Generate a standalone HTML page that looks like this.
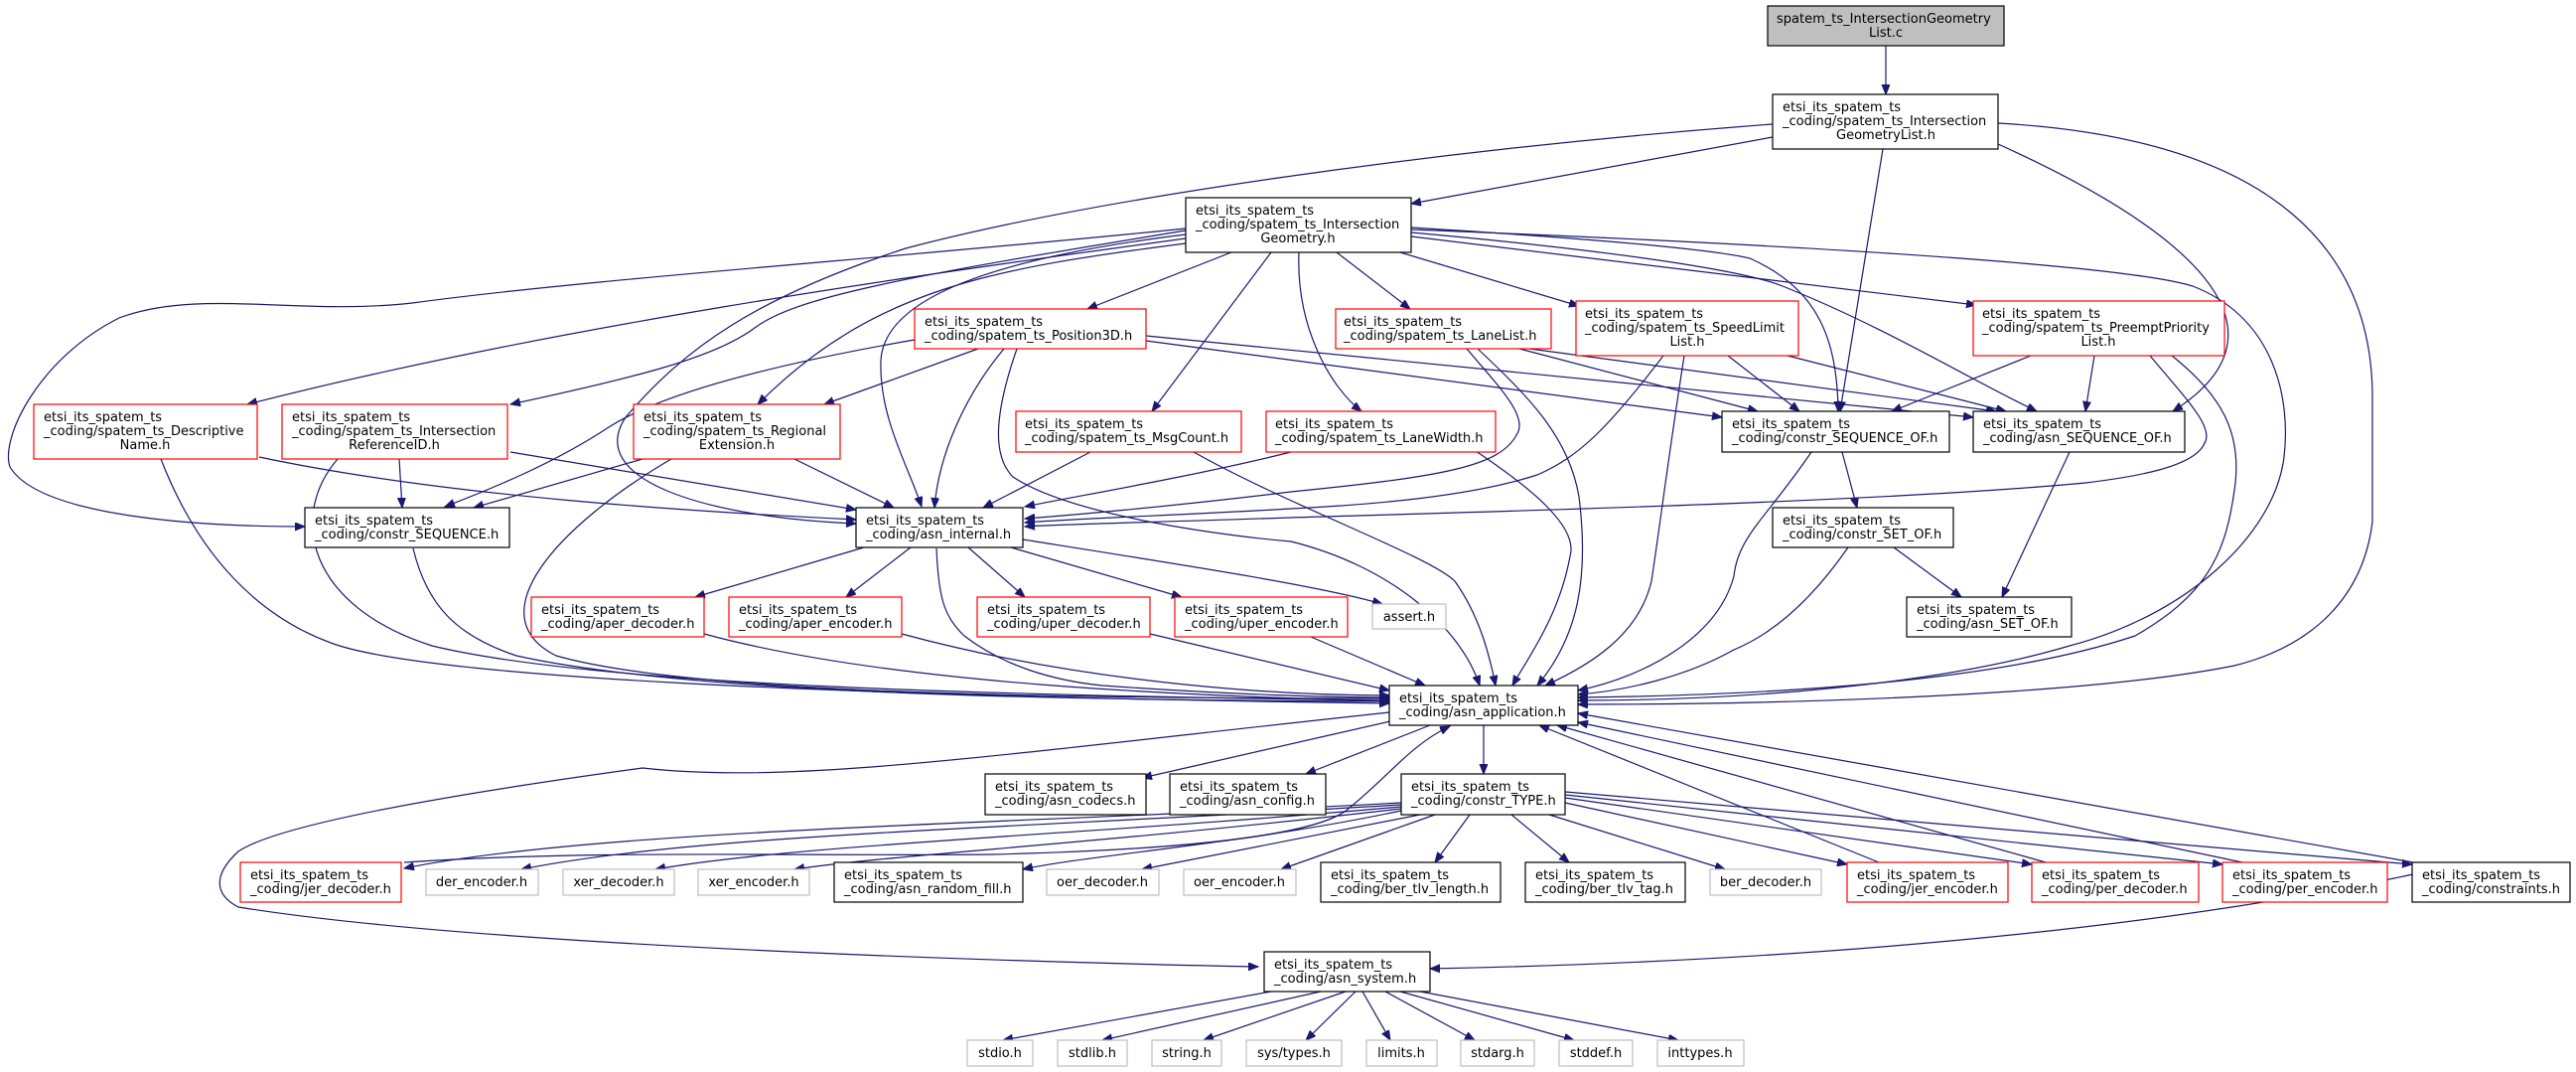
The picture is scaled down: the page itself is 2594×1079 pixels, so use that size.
<!DOCTYPE html>
<html><head><meta charset="utf-8"><style>
html,body{margin:0;padding:0;background:#fff;}
svg{display:block;}
text{font-family:"DejaVu Sans","Liberation Sans",sans-serif;font-size:13px;fill:#000;}
.e{fill:none;stroke:#191970;stroke-width:1.2;marker-end:url(#a);}
.b{fill:#fff;stroke:#000;stroke-width:1.2;}
.r{fill:#fff;stroke:#ff0000;stroke-width:1.2;}
.g{fill:#fff;stroke:#bfbfbf;stroke-width:1.2;}
.m{text-anchor:middle;}
</style></head><body>
<svg width="2594" height="1079" viewBox="0 0 2594 1079" xmlns="http://www.w3.org/2000/svg">
<defs><marker id="a" markerUnits="userSpaceOnUse" markerWidth="11" markerHeight="9" refX="10" refY="4" orient="auto"><path d="M0,0 L10,4 L0,8 z" fill="#191970" stroke="#191970"/></marker></defs>
<g>
<path class="e" d="M1899,46 L1899,95"/>
<path class="e" d="M1785,138 L1421,205"/>
<path class="e" d="M1785,125 C1450,150 1100,200 912,250 C760,300 690,350 630,420 C590,480 700,520 862,527"/>
<path class="e" d="M1896,150 L1853,414"/>
<path class="e" d="M2012,145 C2200,230 2320,330 2188,414"/>
<path class="e" d="M2012,124 C2300,140 2389,260 2389,400 L2389,525 C2380,600 2330,650 2250,670 C2100,700 1800,709 1589,709"/>
<path class="e" d="M1240,254 L1095,311"/>
<path class="e" d="M1280,254 L1160,414"/>
<path class="e" d="M1346,254 L1420,311"/>
<path class="e" d="M1410,254 L1590,308"/>
<path class="e" d="M1421,238 L1990,307"/>
<path class="e" d="M1308,254 C1305,330 1340,390 1371,414"/>
<path class="e" d="M1194,240 C900,280 550,330 249,407"/>
<path class="e" d="M1194,232 C900,280 800,300 760,330 C720,360 640,380 514,407"/>
<path class="e" d="M1194,230 C900,260 600,280 415,305 C300,318 200,290 120,320 C40,360 0,440 10,470 C40,520 200,530 307,530"/>
<path class="e" d="M1194,245 C1000,270 880,290 763,407"/>
<path class="e" d="M1194,236 C1000,260 890,300 887,363 C885,420 915,470 928,510"/>
<path class="e" d="M1421,229 C1600,240 1720,250 1762,260 C1830,290 1850,340 1851,414"/>
<path class="e" d="M1421,234 C1600,250 1750,270 1795,288 C1900,330 1980,380 2051,414"/>
<path class="e" d="M1421,231 C1900,250 2150,270 2208,288 C2290,320 2307,400 2300,460 C2290,540 2200,620 2084,650 C1950,690 1750,705 1589,705"/>
<path class="e" d="M985,351 L830,407"/>
<path class="e" d="M921,342 C760,370 660,400 613,430 C560,465 500,490 448,510"/>
<path class="e" d="M1011,351 C970,400 945,460 941,511"/>
<path class="e" d="M1024,351 C1000,420 1000,460 1020,480 C1080,520 1240,540 1300,545 C1400,570 1470,630 1490,690"/>
<path class="e" d="M1154,343 L1734,420"/>
<path class="e" d="M1154,338 L1987,420"/>
<path class="e" d="M402,462 L405,511"/>
<path class="e" d="M514,455 L862,513"/>
<path class="e" d="M340,462 C290,520 310,610 435,650 C600,690 1000,700 1399,705"/>
<path class="e" d="M261,460 C450,500 700,515 862,523"/>
<path class="e" d="M162,462 C200,560 260,620 333,647 C420,680 800,700 1399,708"/>
<path class="e" d="M647,462 L477,511"/>
<path class="e" d="M800,462 L900,511"/>
<path class="e" d="M676,462 C560,530 480,620 560,660 C700,700 1100,703 1399,703"/>
<path class="e" d="M1098,455 L990,511"/>
<path class="e" d="M1202,455 C1300,510 1440,560 1465,585 C1490,620 1500,660 1506,690"/>
<path class="e" d="M1300,455 C1200,480 1080,500 1032,510"/>
<path class="e" d="M1486,454 C1540,490 1590,530 1581,560 C1570,620 1540,660 1523,690"/>
<path class="e" d="M1477,351 C1510,390 1540,420 1527,438 C1510,470 1450,480 1300,495 C1180,510 1060,520 1032,522"/>
<path class="e" d="M1488,351 C1540,400 1580,440 1590,500 C1600,580 1590,640 1548,690"/>
<path class="e" d="M1530,351 L1770,414"/>
<path class="e" d="M1540,351 L2010,414"/>
<path class="e" d="M1740,358 L1812,414"/>
<path class="e" d="M1800,358 L2020,414"/>
<path class="e" d="M1696,358 C1680,460 1670,540 1663,585 C1650,640 1600,670 1556,690"/>
<path class="e" d="M1675,358 C1620,430 1590,460 1548,478 C1480,500 1380,508 1300,512 C1200,518 1080,522 1032,526"/>
<path class="e" d="M2045,358 L1905,414"/>
<path class="e" d="M2109,358 L2100,414"/>
<path class="e" d="M2165,358 C2200,400 2230,430 2220,446 C2210,470 2150,480 2100,486 C1900,505 1500,515 1300,521 C1150,526 1060,528 1032,530"/>
<path class="e" d="M2187,358 C2240,400 2260,440 2249,500 C2240,560 2220,600 2150,640 C2000,690 1750,700 1589,702"/>
<path class="e" d="M1855,455 L1870,511"/>
<path class="e" d="M1824,455 C1780,520 1750,540 1746,580 C1730,640 1660,680 1589,695"/>
<path class="e" d="M2084,455 L2016,601"/>
<path class="e" d="M1907,551 L1975,601"/>
<path class="e" d="M1861,551 C1820,610 1780,640 1746,654 C1700,680 1640,695 1589,699"/>
<path class="e" d="M416,552 C430,610 460,640 520,660 C700,700 1100,705 1399,706"/>
<path class="e" d="M870,551 L700,601"/>
<path class="e" d="M917,551 L852,601"/>
<path class="e" d="M975,551 L1032,601"/>
<path class="e" d="M1018,551 L1190,601"/>
<path class="e" d="M1030,543 C1200,570 1330,590 1392,608"/>
<path class="e" d="M943,552 C945,600 950,620 971,640 C1010,670 1060,685 1110,690 C1250,700 1350,702 1399,702"/>
<path class="e" d="M709,638 C900,690 1200,700 1399,706"/>
<path class="e" d="M908,638 C1100,690 1300,700 1399,700"/>
<path class="e" d="M1158,638 L1399,695"/>
<path class="e" d="M1320,641 L1435,690"/>
<path class="e" d="M1400,726 L1150,783"/>
<path class="e" d="M1440,730 L1315,779"/>
<path class="e" d="M1494,730 L1494,779"/>
<path class="e" d="M1399,717 C1000,760 800,790 647,773 C450,800 280,830 240,857 C215,880 215,900 240,913 C500,955 1100,970 1267,973"/>
<path class="e" d="M1411,808 C1000,830 600,835 407,874"/>
<path class="e" d="M1411,810 C1000,835 700,840 525,875"/>
<path class="e" d="M1411,812 C1100,840 800,850 660,875"/>
<path class="e" d="M1411,814 C1100,850 900,860 800,875"/>
<path class="e" d="M1411,816 C1250,850 1100,860 1030,875"/>
<path class="e" d="M1430,820 L1150,875"/>
<path class="e" d="M1445,820 L1290,875"/>
<path class="e" d="M1480,820 L1445,868"/>
<path class="e" d="M1522,820 L1580,868"/>
<path class="e" d="M1560,820 L1737,875"/>
<path class="e" d="M1576,808 L1860,870"/>
<path class="e" d="M1576,803 L2046,870"/>
<path class="e" d="M1576,800 L2238,870"/>
<path class="e" d="M1576,797 L2429,870"/>
<path class="e" d="M407,868 C600,855 800,862 1000,860 C1200,855 1330,840 1359,813 C1400,780 1420,750 1460,731"/>
<path class="e" d="M1892,868 L1550,730"/>
<path class="e" d="M2060,868 L1568,730"/>
<path class="e" d="M2258,868 L1589,727"/>
<path class="e" d="M2430,868 L1589,718"/>
<path class="e" d="M2430,880 C2100,950 1700,970 1440,975"/>
<path class="e" d="M1280,998 L1010,1047"/>
<path class="e" d="M1330,998 L1110,1047"/>
<path class="e" d="M1355,998 L1212,1047"/>
<path class="e" d="M1365,998 L1315,1047"/>
<path class="e" d="M1372,998 L1400,1047"/>
<path class="e" d="M1395,998 L1485,1047"/>
<path class="e" d="M1410,998 L1585,1047"/>
<path class="e" d="M1430,998 L1690,1047"/>
</g>
<g>
<rect x="1780" y="6" width="238" height="40" fill="#bfbfbf" stroke="#000" stroke-width="1.2"/>
<text x="1789" y="23">spatem_ts_IntersectionGeometry</text><text class="m" x="1899" y="37">List.c</text>

<rect class="b" x="1785" y="95" width="227" height="55"/>
<text x="1795" y="112">etsi_its_spatem_ts</text><text x="1795" y="126">_coding/spatem_ts_Intersection</text><text class="m" x="1899" y="140">GeometryList.h</text>

<rect class="b" x="1194" y="199" width="227" height="55"/>
<text x="1204" y="216">etsi_its_spatem_ts</text><text x="1204" y="230">_coding/spatem_ts_Intersection</text><text class="m" x="1307" y="244">Geometry.h</text>

<rect class="r" x="1345" y="311" width="217" height="40"/>
<text x="1353" y="328">etsi_its_spatem_ts</text><text x="1353" y="342">_coding/spatem_ts_LaneList.h</text>

<rect class="r" x="1587" y="303" width="224" height="55"/>
<text x="1596" y="320">etsi_its_spatem_ts</text><text x="1596" y="334">_coding/spatem_ts_SpeedLimit</text><text class="m" x="1699" y="348">List.h</text>

<rect class="r" x="1987" y="303" width="253" height="55"/>
<text x="1996" y="320">etsi_its_spatem_ts</text><text x="1996" y="334">_coding/spatem_ts_PreemptPriority</text><text class="m" x="2113" y="348">List.h</text>

<rect class="r" x="921" y="311" width="233" height="40"/>
<text x="931" y="328">etsi_its_spatem_ts</text><text x="931" y="342">_coding/spatem_ts_Position3D.h</text>

<rect class="r" x="34" y="407" width="225" height="55"/>
<text x="44" y="424">etsi_its_spatem_ts</text><text x="44" y="438">_coding/spatem_ts_Descriptive</text><text class="m" x="146" y="452">Name.h</text>

<rect class="r" x="284" y="407" width="227" height="55"/>
<text x="294" y="424">etsi_its_spatem_ts</text><text x="294" y="438">_coding/spatem_ts_Intersection</text><text class="m" x="397" y="452">ReferenceID.h</text>

<rect class="r" x="638" y="407" width="208" height="55"/>
<text x="648" y="424">etsi_its_spatem_ts</text><text x="648" y="438">_coding/spatem_ts_Regional</text><text class="m" x="742" y="452">Extension.h</text>

<rect class="r" x="1023" y="414" width="227" height="41"/>
<text x="1032" y="431">etsi_its_spatem_ts</text><text x="1032" y="445">_coding/spatem_ts_MsgCount.h</text>

<rect class="r" x="1275" y="414" width="231" height="41"/>
<text x="1284" y="431">etsi_its_spatem_ts</text><text x="1284" y="445">_coding/spatem_ts_LaneWidth.h</text>

<rect class="b" x="1734" y="414" width="229" height="41"/>
<text x="1744" y="431">etsi_its_spatem_ts</text><text x="1744" y="445">_coding/constr_SEQUENCE_OF.h</text>

<rect class="b" x="1987" y="414" width="213" height="41"/>
<text x="1997" y="431">etsi_its_spatem_ts</text><text x="1997" y="445">_coding/asn_SEQUENCE_OF.h</text>

<rect class="b" x="307" y="511" width="206" height="40"/>
<text x="317" y="528">etsi_its_spatem_ts</text><text x="317" y="542">_coding/constr_SEQUENCE.h</text>

<rect class="b" x="862" y="511" width="168" height="40"/>
<text x="872" y="528">etsi_its_spatem_ts</text><text x="872" y="542">_coding/asn_internal.h</text>

<rect class="b" x="1785" y="511" width="182" height="40"/>
<text x="1795" y="528">etsi_its_spatem_ts</text><text x="1795" y="542">_coding/constr_SET_OF.h</text>

<rect class="b" x="1920" y="601" width="166" height="40"/>
<text x="1930" y="618">etsi_its_spatem_ts</text><text x="1930" y="632">_coding/asn_SET_OF.h</text>

<rect class="r" x="535" y="601" width="174" height="40"/>
<text x="545" y="618">etsi_its_spatem_ts</text><text x="545" y="632">_coding/aper_decoder.h</text>

<rect class="r" x="734" y="601" width="174" height="40"/>
<text x="744" y="618">etsi_its_spatem_ts</text><text x="744" y="632">_coding/aper_encoder.h</text>

<rect class="r" x="984" y="601" width="174" height="40"/>
<text x="994" y="618">etsi_its_spatem_ts</text><text x="994" y="632">_coding/uper_decoder.h</text>

<rect class="r" x="1183" y="601" width="174" height="40"/>
<text x="1193" y="618">etsi_its_spatem_ts</text><text x="1193" y="632">_coding/uper_encoder.h</text>

<rect class="g" x="1382" y="608" width="74" height="25"/>
<text class="m" x="1419" y="625">assert.h</text>

<rect class="b" x="1399" y="690" width="190" height="40"/>
<text x="1409" y="707">etsi_its_spatem_ts</text><text x="1409" y="721">_coding/asn_application.h</text>

<rect class="b" x="992" y="779" width="162" height="41"/>
<text x="1002" y="796">etsi_its_spatem_ts</text><text x="1002" y="810">_coding/asn_codecs.h</text>

<rect class="b" x="1178" y="779" width="157" height="41"/>
<text x="1188" y="796">etsi_its_spatem_ts</text><text x="1188" y="810">_coding/asn_config.h</text>

<rect class="b" x="1411" y="779" width="165" height="41"/>
<text x="1421" y="796">etsi_its_spatem_ts</text><text x="1421" y="810">_coding/constr_TYPE.h</text>

<rect class="r" x="242" y="868" width="162" height="40"/>
<text x="252" y="885">etsi_its_spatem_ts</text><text x="252" y="899">_coding/jer_decoder.h</text>
<rect class="g" x="429" y="875" width="113" height="26"/><text class="m" x="485" y="892">der_encoder.h</text>
<rect class="g" x="567" y="875" width="112" height="26"/><text class="m" x="623" y="892">xer_decoder.h</text>
<rect class="g" x="703" y="875" width="112" height="26"/><text class="m" x="759" y="892">xer_encoder.h</text>
<rect class="b" x="840" y="868" width="190" height="40"/>
<text x="850" y="885">etsi_its_spatem_ts</text><text x="850" y="899">_coding/asn_random_fill.h</text>
<rect class="g" x="1054" y="875" width="113" height="26"/><text class="m" x="1110" y="892">oer_decoder.h</text>
<rect class="g" x="1192" y="875" width="113" height="26"/><text class="m" x="1248" y="892">oer_encoder.h</text>
<rect class="b" x="1330" y="868" width="181" height="40"/>
<text x="1340" y="885">etsi_its_spatem_ts</text><text x="1340" y="899">_coding/ber_tlv_length.h</text>
<rect class="b" x="1536" y="868" width="161" height="40"/>
<text x="1546" y="885">etsi_its_spatem_ts</text><text x="1546" y="899">_coding/ber_tlv_tag.h</text>
<rect class="g" x="1722" y="875" width="112" height="26"/><text class="m" x="1778" y="892">ber_decoder.h</text>
<rect class="r" x="1860" y="868" width="162" height="40"/>
<text x="1870" y="885">etsi_its_spatem_ts</text><text x="1870" y="899">_coding/jer_encoder.h</text>
<rect class="r" x="2046" y="868" width="168" height="40"/>
<text x="2056" y="885">etsi_its_spatem_ts</text><text x="2056" y="899">_coding/per_decoder.h</text>
<rect class="r" x="2238" y="868" width="166" height="40"/>
<text x="2248" y="885">etsi_its_spatem_ts</text><text x="2248" y="899">_coding/per_encoder.h</text>
<rect class="b" x="2429" y="868" width="159" height="40"/>
<text x="2439" y="885">etsi_its_spatem_ts</text><text x="2439" y="899">_coding/constraints.h</text>

<rect class="b" x="1273" y="958" width="167" height="40"/>
<text x="1283" y="975">etsi_its_spatem_ts</text><text x="1283" y="989">_coding/asn_system.h</text>

<rect class="g" x="974" y="1047" width="66" height="26"/><text class="m" x="1007" y="1064">stdio.h</text>
<rect class="g" x="1065" y="1047" width="70" height="26"/><text class="m" x="1100" y="1064">stdlib.h</text>
<rect class="g" x="1160" y="1047" width="70" height="26"/><text class="m" x="1195" y="1064">string.h</text>
<rect class="g" x="1255" y="1047" width="96" height="26"/><text class="m" x="1303" y="1064">sys/types.h</text>
<rect class="g" x="1376" y="1047" width="71" height="26"/><text class="m" x="1411" y="1064">limits.h</text>
<rect class="g" x="1471" y="1047" width="74" height="26"/><text class="m" x="1508" y="1064">stdarg.h</text>
<rect class="g" x="1570" y="1047" width="74" height="26"/><text class="m" x="1607" y="1064">stddef.h</text>
<rect class="g" x="1669" y="1047" width="87" height="26"/><text class="m" x="1712" y="1064">inttypes.h</text>
</g>
</svg>
</body></html>
